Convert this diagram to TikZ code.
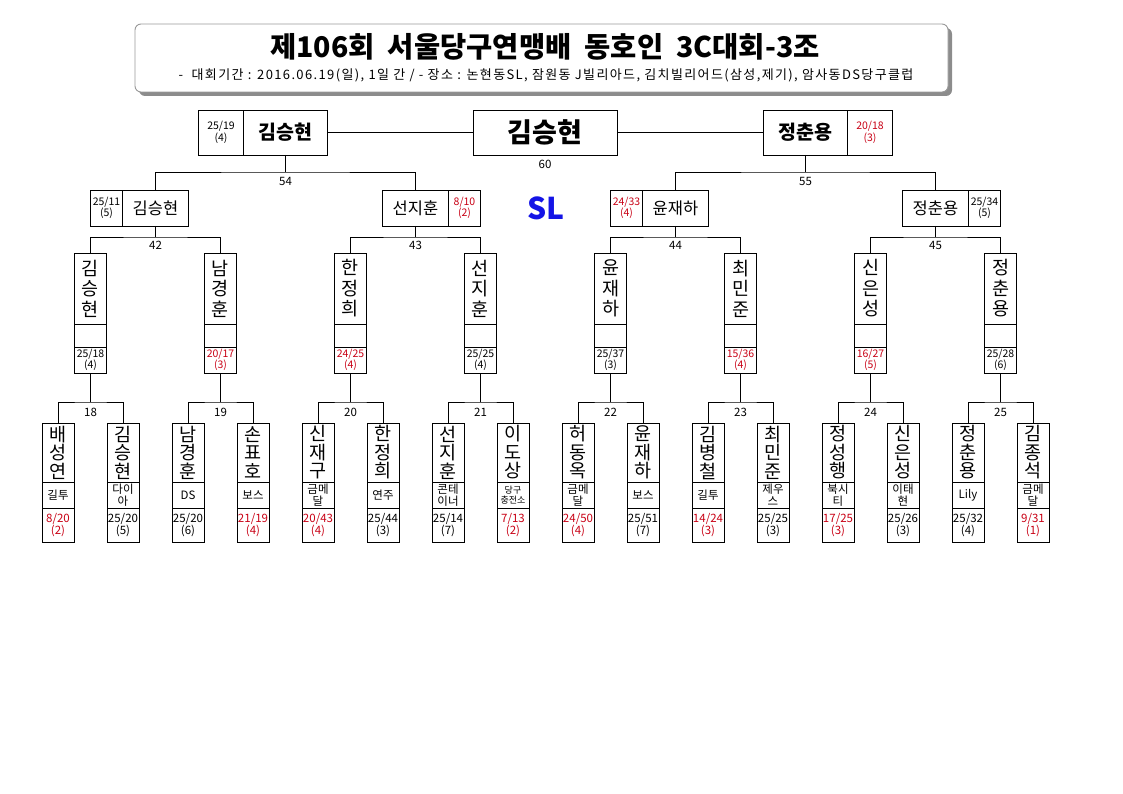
\documentclass[tikz,border=0pt]{standalone}
\usepackage{fontspec}
\setmainfont{Noto Sans CJK KR}
\usetikzlibrary{positioning,shadows}
\definecolor{lose}{RGB}{200,0,20}
\definecolor{slblue}{RGB}{20,20,230}

\begin{document}
\begin{tikzpicture}[x=1pt, y=-1pt, line width=0.9pt,
  box/.style={draw, inner sep=0pt, outer sep=0pt, align=center},
  pname/.style={box, minimum width=32pt, minimum height=59pt, font=\fontsize{18.5}{18.5}\selectfont},
  pclub/.style={box, minimum width=32pt, minimum height=26pt, font=\fontsize{11.5}{12}\selectfont},
  pclubs/.style={box, minimum width=32pt, minimum height=26pt, font=\fontsize{9}{10.5}\selectfont},
  pscore/.style={box, minimum width=32pt, minimum height=34pt, font=\fontsize{11.5}{12.5}\selectfont},
  qname/.style={box, minimum width=32pt, minimum height=71pt, font=\fontsize{18.5}{20.5}\selectfont},
  qblank/.style={box, minimum width=32pt, minimum height=23pt},
  qscore/.style={box, minimum width=32pt, minimum height=26pt, font=\fontsize{10.5}{11}\selectfont},
  rname/.style={box, minimum width=66pt, minimum height=36pt, font=\fontsize{16.5}{18}\selectfont},
  rscore/.style={box, minimum width=32pt, minimum height=36pt, font=\fontsize{10.5}{11.5}\selectfont},
  tname/.style={box, minimum width=84pt, minimum height=45pt, font=\fontsize{19.5}{20}\selectfont\bfseries},
  tscore/.style={box, minimum width=45pt, minimum height=45pt, font=\fontsize{10.5}{11.5}\selectfont},
  champ/.style={box, minimum width=144pt, minimum height=45pt, font=\fontsize{27}{28}\selectfont\bfseries},
  num/.style={inner sep=0pt, font=\fontsize{11.5}{12}\selectfont}]
\useasboundingbox (0,0) rectangle (1123,794);

% title
\node[draw=black!40, rounded corners=6pt, fill=white, minimum width=813pt, minimum height=68pt,
  drop shadow={shadow xshift=4pt, shadow yshift=-4pt, fill=black!45, opacity=1}] (head) at (541.5,58) {};
\node[font=\fontsize{28.5}{30}\selectfont\bfseries] (title) at (545,47) {제106회\ \ 서울당구연맹배\ \ 동호인\ \ 3C대회-3조};
\node[font=\fontsize{13}{14}\selectfont\addfontfeatures{LetterSpace=10.5}] (sub) at (546,75) {-\ \ 대회기간 : 2016.06.19(일), 1일 간 / - 장소 : 논현동SL, 잠원동 J빌리아드, 김치빌리어드(삼성,제기), 암사동DS당구클럽};

% first round
\foreach \nm/\cl/\pt/\inn/\cc/\cf [count=\i from 0] in {
  {배\\성\\연}/길투/{8/20}/2/lose/pclub,
  {김\\승\\현}/{다이\\아}/{25/20}/5/black/pclub,
  {남\\경\\훈}/DS/{25/20}/6/black/pclub,
  {손\\표\\호}/보스/{21/19}/4/lose/pclub,
  {신\\재\\구}/{금메\\달}/{20/43}/4/lose/pclub,
  {한\\정\\희}/연주/{25/44}/3/black/pclub,
  {선\\지\\훈}/{콘테\\이너}/{25/14}/7/black/pclub,
  {이\\도\\상}/{당구\\충전소}/{7/13}/2/lose/pclubs,
  {허\\동\\옥}/{금메\\달}/{24/50}/4/lose/pclub,
  {윤\\재\\하}/보스/{25/51}/7/black/pclub,
  {김\\병\\철}/길투/{14/24}/3/lose/pclub,
  {최\\민\\준}/{제우\\스}/{25/25}/3/black/pclub,
  {정\\성\\행}/{북시\\티}/{17/25}/3/lose/pclub,
  {신\\은\\성}/{이태\\현}/{25/26}/3/black/pclub,
  {정\\춘\\용}/Lily/{25/32}/4/black/pclub,
  {김\\종\\석}/{금메\\달}/{9/31}/1/lose/pclub}{
  \node[pname] (p\i) at ({58+65*\i},452.5) {\nm};
  \node[\cf, below=0pt of p\i] (c\i) {\cl};
  \node[pscore, below=0pt of c\i, text=\cc] (s\i) {\pt\\(\inn)};
}

% second round
\foreach \nm/\pt/\inn/\cc [count=\j from 0] in {
  {김\\승\\현}/{25/18}/4/black,
  {남\\경\\훈}/{20/17}/3/lose,
  {한\\정\\희}/{24/25}/4/lose,
  {선\\지\\훈}/{25/25}/4/black,
  {윤\\재\\하}/{25/37}/3/black,
  {최\\민\\준}/{15/36}/4/lose,
  {신\\은\\성}/{16/27}/5/lose,
  {정\\춘\\용}/{25/28}/6/black}{
  \node[qname] (q\j) at ({90.5+130*\j},288.5) {\nm};
  \node[qblank, below=0pt of q\j] (qb\j) {};
  \node[qscore, below=0pt of qb\j, text=\cc] (qs\j) {\pt\\(\inn)};
}

% quarter finals
\foreach \nm/\pt/\inn/\cc/\sa/\sb [count=\k from 0] in {
  김승현/{25/11}/5/black/west/east,
  선지훈/{8/10}/2/lose/east/west,
  윤재하/{24/33}/4/lose/west/east,
  정춘용/{25/34}/5/black/east/west}{
  \node[rname] (r\k) at ({155.5+260*\k},208) {\nm};
  \node[rscore, anchor=\sb, text=\cc] (rs\k) at (r\k.\sa) {\pt\\(\inn)};
}

% semi finals and final
\node[tname] (t0) at (285.5,132.5) {김승현};
\node[tscore, anchor=east] (ts0) at (t0.west) {25/19\\(4)};
\node[tname] (t1) at (805.5,132.5) {정춘용};
\node[tscore, anchor=west, text=lose] (ts1) at (t1.east) {20/18\\(3)};
\node[champ] (fin) at (545,132.5) {김승현};
\node[num, below=5pt of fin] (n60) {60};
\node[font=\fontsize{30}{30}\selectfont\bfseries, text=slblue] (sl) at (546,208) {SL};

% brackets
\foreach \k [evaluate=\k as \a using int(2*\k), evaluate=\k as \b using int(2*\k+1),
  evaluate=\k as \lb using int(18+\k)] in {0,...,7}{
  \coordinate (m\k) at ({90.5+130*\k},402);
  \draw (p\a.north) |- (m\k) -| (p\b.north);
  \draw (qs\k.south) -- (m\k);
  \node[num, below=6pt of m\k] (lm\k) {\lb};
}
\foreach \k [evaluate=\k as \a using int(2*\k), evaluate=\k as \b using int(2*\k+1),
  evaluate=\k as \lb using int(42+\k)] in {0,...,3}{
  \coordinate (h\k) at ({155.5+260*\k},237);
  \draw (q\a.north) |- (h\k) -| (q\b.north);
  \draw (r\k.south) -- (h\k);
  \node[num, below=4pt of h\k] (lh\k) {\lb};
}
\foreach \k [evaluate=\k as \a using int(2*\k), evaluate=\k as \b using int(2*\k+1),
  evaluate=\k as \lb using int(54+\k)] in {0,1}{
  \coordinate (g\k) at ({285.5+520*\k},172);
  \draw (r\a.north) |- (g\k) -| (r\b.north);
  \draw (t\k.south) -- (g\k);
  \node[num, below=5pt of g\k] (lg\k) {\lb};
}
\draw (t0) -- (fin);
\draw (fin) -- (t1);
\end{tikzpicture}
\end{document}
